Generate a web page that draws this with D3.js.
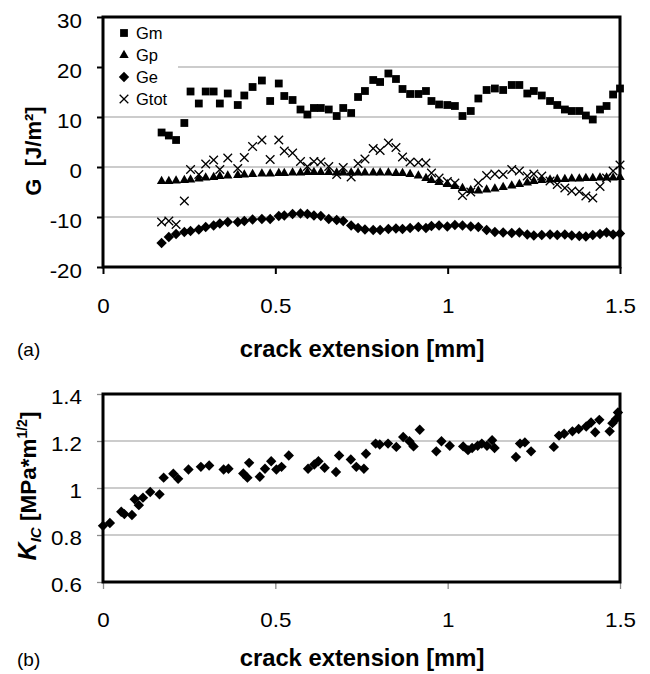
<!DOCTYPE html>
<html><head><meta charset="utf-8">
<script src="https://cdn.jsdelivr.net/npm/d3@7"></script>
<style>
body{margin:0;background:#fff}
svg{display:block}
text{font-family:"Liberation Sans",Arial,sans-serif;fill:#000}
</style>
</head><body>
<svg id="c" width="650" height="674"></svg>
<script>
// ---------- data ----------
const xTicks = [0, 0.5, 1, 1.5];
const gTicks = [-20, -10, 0, 10, 20, 30];
const kTicks = [0.6, 0.8, 1, 1.2, 1.4];
const legendLabels = ["Gm", "Gp", "Ge", "Gtot"];

// crack extension [mm] for panel (a)
const xG = [0.170,0.191,0.212,0.236,0.254,0.278,0.298,0.321,0.339,0.362,
            0.391,0.410,0.434,0.461,0.485,0.510,0.526,0.550,0.573,0.593,
            0.612,0.632,0.655,0.678,0.697,0.720,0.740,0.760,0.784,0.804,
            0.828,0.850,0.869,0.891,0.915,0.937,0.953,0.975,0.999,1.021,
            1.043,1.067,1.089,1.113,1.137,1.161,1.186,1.208,1.231,1.250,
            1.273,1.297,1.318,1.340,1.360,1.382,1.401,1.421,1.442,1.461,
            1.480,1.500];
const Gm = [6.9,6.3,5.4,8.8,15.1,12.7,15.1,15.1,12.7,14.7,
            12.4,14.3,16.0,17.3,13.2,16.7,14.2,13.4,11.5,10.5,
            11.8,11.8,11.5,10.2,11.8,10.8,14.0,15.2,17.4,17.0,
            18.7,17.6,15.6,14.6,14.6,15.2,13.2,12.5,12.4,12.2,
            10.2,11.2,13.7,15.4,15.7,15.4,16.4,16.4,14.7,15.2,
            14.3,13.2,12.4,11.5,11.2,11.2,10.3,9.5,11.5,12.2,
            14.5,15.7];
const Gp = [-2.8,-2.8,-2.7,-2.6,-2.5,-2.3,-2.1,-2.0,-1.8,-1.7,
            -1.6,-1.5,-1.4,-1.3,-1.3,-1.2,-1.2,-1.1,-1.1,-1.0,
            -1.0,-1.0,-1.0,-1.1,-1.1,-1.1,-1.1,-1.1,-1.1,-1.1,
            -1.1,-1.2,-1.2,-1.4,-1.7,-2.2,-2.6,-3.0,-3.4,-3.8,
            -4.2,-4.6,-4.7,-4.5,-4.3,-4.0,-3.7,-3.4,-3.1,-2.8,
            -2.6,-2.5,-2.4,-2.4,-2.3,-2.3,-2.2,-2.2,-2.1,-2.1,
            -2.1,-2.0];
const Ge = [-15.2,-14.0,-13.4,-13.0,-12.8,-12.5,-12.0,-11.7,-11.3,-11.0,
            -11.0,-10.8,-10.5,-10.4,-10.4,-9.8,-9.7,-9.4,-9.3,-9.4,
            -9.7,-9.8,-10.4,-10.6,-10.8,-11.7,-12.2,-12.5,-12.6,-12.6,
            -12.4,-12.3,-12.4,-12.2,-12.0,-12.2,-11.8,-11.7,-11.9,-11.6,
            -11.7,-11.9,-12.0,-12.6,-13.0,-13.1,-13.2,-13.1,-13.5,-13.7,
            -13.6,-13.5,-13.6,-13.5,-13.7,-13.8,-13.9,-13.6,-13.4,-13.1,
            -13.5,-13.3];
const Gtot = [-11.0,-10.8,-11.5,-6.8,-0.5,-1.5,0.6,1.4,-0.5,1.8,
              -0.3,1.9,4.1,5.4,1.5,5.4,3.2,2.8,1.1,0.1,
              1.1,1.0,0.1,-1.5,-0.1,-2.0,0.7,1.6,3.7,3.3,
              4.8,3.9,2.0,1.0,0.9,0.8,-1.2,-2.2,-2.9,-3.2,
              -5.7,-5.0,-3.2,-1.7,-1.4,-1.5,-0.5,-0.8,-1.8,-1.4,
              -1.8,-2.8,-3.5,-4.2,-4.8,-4.9,-5.8,-6.2,-3.9,-2.2,
              -0.8,0.4];

// panel (b)
const xK = [0.000,0.020,0.053,0.062,0.084,0.092,0.104,0.116,0.137,0.164,
            0.176,0.204,0.218,0.248,0.284,0.308,0.350,0.364,0.407,0.419,
            0.424,0.455,0.470,0.488,0.503,0.518,0.539,0.595,0.613,0.625,
            0.643,0.676,0.685,0.719,0.735,0.757,0.763,0.791,0.803,0.827,
            0.851,0.871,0.889,0.901,0.919,0.967,0.982,1.006,1.045,1.059,
            1.071,1.087,1.099,1.114,1.129,1.136,1.198,1.210,1.224,1.242,
            1.308,1.323,1.338,1.362,1.380,1.402,1.416,1.428,1.440,1.470,
            1.478,1.488,1.494];
const KIC = [0.839,0.851,0.899,0.889,0.885,0.952,0.927,0.959,0.983,0.973,
             1.044,1.061,1.039,1.079,1.090,1.096,1.079,1.082,1.062,1.044,
             1.107,1.048,1.082,1.114,1.079,1.090,1.138,1.082,1.100,1.114,
             1.086,1.068,1.138,1.121,1.090,1.082,1.146,1.189,1.185,1.189,
             1.175,1.217,1.199,1.177,1.248,1.156,1.199,1.180,1.177,1.161,
             1.170,1.180,1.189,1.180,1.203,1.170,1.132,1.189,1.194,1.156,
             1.175,1.223,1.231,1.241,1.251,1.262,1.279,1.237,1.290,1.241,
             1.276,1.293,1.321];

// ---------- drawing ----------
const svg = d3.select("#c");
const L = 103, R = 620;
const x = d3.scaleLinear().domain([0, 1.5]).range([L, R]);
const yG = d3.scaleLinear().domain([-20, 30]).range([267, 17]);
const yK = d3.scaleLinear().domain([0.6, 1.4]).range([582, 394]);
const FONT = "Liberation Sans, Arial, sans-serif";
const SX = 1.12; // horizontal stretch of the original figure's lettering

const shapes = {
  square: "M-3.9,-3.9H3.9V3.9H-3.9Z",
  triangle: "M0,-5.2L4.7,2.9H-4.7Z",
  diamond: "M0,-5.2L5.2,0L0,5.2L-5.2,0Z"
};

function panel(y, ticks) {
  const g = svg.append("g");
  g.selectAll("line.grid").data(ticks.slice(1, -1)).enter().append("line")
    .attr("x1", L).attr("x2", R)
    .attr("y1", d => y(d)).attr("y2", d => y(d))
    .attr("stroke", "#9a9a9a").attr("stroke-width", 1.2);
  return g;
}

function axes(y, ticks, tickColor, tickW, xPad, yDy) {
  const bot = y.range()[0];
  const ax = svg.append("g").attr("transform", `translate(0,${bot})`)
    .call(d3.axisBottom(x).tickValues(xTicks).tickSize(7).tickPadding(xPad)
      .tickFormat(d => String(d)));
  ax.select(".domain").remove();
  ax.selectAll(".tick line").attr("stroke", tickColor).attr("stroke-width", tickW);
  ax.selectAll(".tick text").attr("font-size", 20).attr("font-family", FONT)
    .attr("transform", `scale(${SX},1)`);

  const ay = svg.append("g").attr("transform", `translate(${L},0)`)
    .call(d3.axisLeft(y).tickValues(ticks).tickSize(6).tickPadding(15)
      .tickFormat(d => String(d)));
  ay.select(".domain").remove();
  ay.selectAll(".tick line").attr("stroke", tickColor).attr("stroke-width", tickW);
  ay.selectAll(".tick text").attr("font-size", 20).attr("dy", yDy)
    .attr("font-family", FONT).attr("x", -21 / SX)
    .attr("transform", `scale(${SX},1)`);
}

function border(y) {
  const top = y.range()[1], bot = y.range()[0];
  svg.append("rect").attr("x", L).attr("y", top)
    .attr("width", R - L).attr("height", bot - top)
    .attr("fill", "none").attr("stroke", "#000").attr("stroke-width", 3);
}

// ===== panel (a) =====
const ga = panel(yG, gTicks);
ga.append("rect").attr("x", L + 1).attr("y", 19).attr("width", 74).attr("height", 91).attr("fill", "#fff");

const seriesA = [
  {name: "Gm", vals: Gm, shape: "square"},
  {name: "Gp", vals: Gp, shape: "triangle"},
  {name: "Ge", vals: Ge, shape: "diamond"},
  {name: "Gtot", vals: Gtot, shape: "cross"}
];

function drawMark(sel, shape) {
  if (shape === "cross") {
    sel.append("path").attr("d", "M-4.3,-4.3L4.3,4.3M-4.3,4.3L4.3,-4.3")
      .attr("stroke", "#000").attr("stroke-width", 1.3).attr("fill", "none");
  } else {
    sel.append("path").attr("d", shapes[shape]).attr("fill", "#000");
  }
}

["Gtot", "Gp", "Ge", "Gm"].forEach(nm => {
  const s = seriesA.find(d => d.name === nm);
  const pts = ga.append("g").selectAll("g").data(xG.map((xv, i) => [xv, s.vals[i]])).enter()
    .append("g").attr("transform", d => `translate(${x(d[0])},${yG(d[1])})`);
  pts.each(function() { drawMark(d3.select(this), s.shape); });
});

const legY = [33, 55, 77, 99];
legendLabels.forEach((lab, i) => {
  const s = seriesA.find(d => d.name === lab);
  const lg = ga.append("g").attr("transform", `translate(124,${legY[i]})`);
  drawMark(lg, s.shape);
  lg.append("text").attr("x", 12).attr("y", 6).attr("font-size", 16.5).text(lab);
});

axes(yG, gTicks, "#000", 2, 25, "0.5em");
border(yG);

const yla = svg.append("text").attr("transform", "translate(41,151) rotate(-90)")
  .attr("text-anchor", "middle").attr("font-weight", "bold").attr("font-size", 22);
yla.append("tspan").text("G");
yla.append("tspan").attr("xml:space", "preserve").text("  [J/m²]");

svg.append("text").attr("x", 362).attr("y", 357).attr("text-anchor", "middle")
  .attr("font-weight", "bold").attr("font-size", 23.8).text("crack extension [mm]");
svg.append("text").attr("x", 17).attr("y", 356).attr("font-size", 19).text("(a)");

// ===== panel (b) =====
const gb = panel(yK, kTicks);
gb.append("g").selectAll("path").data(xK.map((xv, i) => [xv, KIC[i]])).enter()
  .append("path").attr("d", shapes.diamond).attr("fill", "#000")
  .attr("transform", d => `translate(${x(d[0])},${yK(d[1])})`);

axes(yK, kTicks, "#8c8c8c", 1.3, 24, "0.45em");
border(yK);

const ylb = svg.append("text").attr("transform", "translate(36,486) rotate(-90)")
  .attr("text-anchor", "middle").attr("font-weight", "bold").attr("font-size", 22.5);
ylb.append("tspan").attr("font-style", "italic").attr("font-size", 25).text("K");
ylb.append("tspan").attr("font-style", "italic").attr("font-size", 15).attr("dy", 5).text("IC");
ylb.append("tspan").attr("dy", -5).attr("xml:space", "preserve").text(" [MPa*m");
ylb.append("tspan").attr("font-size", 14).attr("dy", -9).text("1/2");
ylb.append("tspan").attr("dy", 9).text("]");

svg.append("text").attr("x", 362).attr("y", 666).attr("text-anchor", "middle")
  .attr("font-weight", "bold").attr("font-size", 23.8).text("crack extension [mm]");
svg.append("text").attr("x", 17).attr("y", 666).attr("font-size", 19).text("(b)");
</script>
</body></html>
